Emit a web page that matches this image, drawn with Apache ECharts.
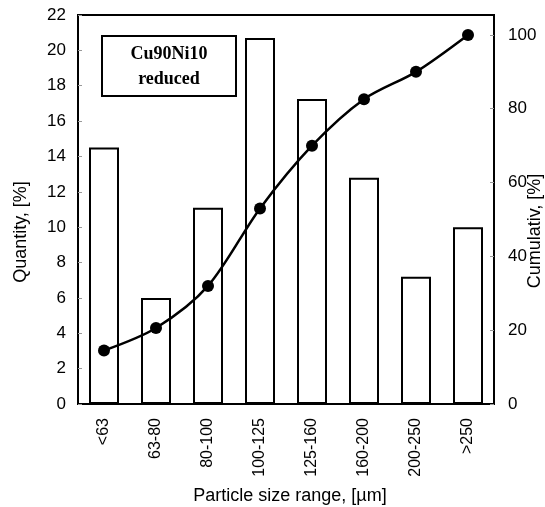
<!DOCTYPE html>
<html><head><meta charset="utf-8">
<script src="https://cdn.jsdelivr.net/npm/echarts@6/dist/echarts.min.js"></script>
<style>html,body{margin:0;padding:0;background:#fff}#c{width:545px;height:507px}</style>
</head><body><div id="c"></div>
<script>
const categories = ['<63','63-80','80-100','100-125','125-160','160-200','200-250','>250'];
const quantity = [14.5, 6.0, 11.1, 20.7, 17.25, 12.8, 7.2, 10.0];
const cumulative = [14.5, 20.6, 32.0, 53.0, 70.0, 82.6, 90.0, 100.0];
const leftTicks = {min: 0, max: 22, interval: 2};
const rightTicks = {min: 0, max: 105.4, interval: 20};

const F = '"Liberation Sans", Arial, sans-serif';
const chart = echarts.init(document.getElementById('c'), null, {renderer: 'canvas'});
chart.setOption({
  animation: false,
  backgroundColor: '#fff',
  grid: {left: 78, right: 51, top: 15, bottom: 103, show: true, borderColor: '#000', borderWidth: 2, backgroundColor: 'transparent'},
  xAxis: {
    type: 'category', data: categories, boundaryGap: true,
    axisLine: {lineStyle: {color: '#000', width: 2}},
    axisTick: {inside: true, length: 4, lineStyle: {color: '#999'}},
    axisLabel: {rotate: 90, color: '#000', fontFamily: F, fontSize: 16, margin: 14},
    splitLine: {show: false}
  },
  yAxis: [{
    type: 'value', min: leftTicks.min, max: leftTicks.max, interval: leftTicks.interval,
    axisLine: {show: true, lineStyle: {color: '#000', width: 2}},
    axisTick: {show: true, inside: true, length: 4, lineStyle: {color: '#999'}},
    axisLabel: {color: '#000', fontFamily: F, fontSize: 17, margin: 12},
    splitLine: {show: false}
  }, {
    type: 'value', min: rightTicks.min, max: rightTicks.max, interval: rightTicks.interval, position: 'right',
    axisLine: {show: true, lineStyle: {color: '#000', width: 2}},
    axisTick: {show: true, inside: true, length: 4, lineStyle: {color: '#999'}},
    axisLabel: {color: '#000', fontFamily: F, fontSize: 17, margin: 14, showMaxLabel: false,
      formatter: v => (v % 20 === 0 ? String(v) : '')},
    splitLine: {show: false}
  }],
  series: [{
    type: 'bar', data: quantity, barWidth: 30, yAxisIndex: 0,
    itemStyle: {color: '#fff', borderColor: '#000', borderWidth: 2}
  }, {
    type: 'line', data: cumulative, yAxisIndex: 1, smooth: 0.3,
    symbol: 'circle', symbolSize: 12,
    lineStyle: {color: '#000', width: 2.5},
    itemStyle: {color: '#000'}
  }],
  graphic: [
    {type: 'rect', shape: {x: 102, y: 36, width: 134, height: 60}, style: {fill: '#fff', stroke: '#000', lineWidth: 2}, z: 100},
    {type: 'text', x: 169, y: 54, z: 101, style: {text: 'Cu90Ni10', fill: '#000', font: 'bold 18px "Liberation Serif", "Times New Roman", serif', align: 'center', verticalAlign: 'middle'}},
    {type: 'text', x: 169, y: 79, z: 101, style: {text: 'reduced', fill: '#000', font: 'bold 18px "Liberation Serif", "Times New Roman", serif', align: 'center', verticalAlign: 'middle'}},
    {type: 'text', x: 21, y: 232, rotation: Math.PI / 2, z: 101, style: {text: 'Quantity, [%]', fill: '#000', font: '18px "Liberation Sans", Arial, sans-serif', align: 'center', verticalAlign: 'middle'}},
    {type: 'text', x: 535, y: 231, rotation: Math.PI / 2, z: 101, style: {text: 'Cumulativ, [%]', fill: '#000', font: '18px "Liberation Sans", Arial, sans-serif', align: 'center', verticalAlign: 'middle'}},
    {type: 'text', x: 290, y: 496, z: 101, style: {text: 'Particle size range, [\u00b5m]', fill: '#000', font: '18px "Liberation Sans", Arial, sans-serif', align: 'center', verticalAlign: 'middle'}}
  ]
});
</script></body></html>
